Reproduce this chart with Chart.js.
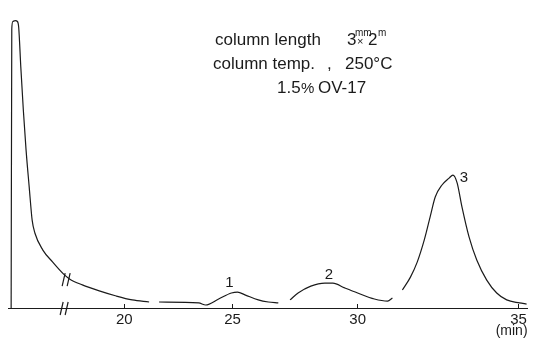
<!DOCTYPE html>
<html>
<head>
<meta charset="utf-8">
<script src="https://cdn.jsdelivr.net/npm/chart.js@4.4.0/dist/chart.umd.min.js"></script>
<style>
  html, body { margin: 0; padding: 0; background: #fff; }
</style>
</head>
<body>
<canvas id="gc" width="534" height="340"></canvas>
<script>
// retention time (min) and detector response
// null = pen lifted
const retention = [
  0, 0.03, 0.08, 0.19, 0.30, 0.36, 0.46, 0.58, 0.71, 0.86, 1.0, 1.13, 1.51, 1.98, 2.5,
  17.48, 18.07, 18.85, 19.63, 20.37, 21.15, 21.4, 21.61, 23.44, 23.76, 24.36, 24.95,
  25.2, 25.52, 26.03, 26.43, 26.83, 27.1, 27.30, 27.62, 28.13, 28.69, 29.01, 29.48,
  30.0, 30.52, 30.93, 31.08, 31.2, 31.39, 31.64, 31.85, 32.07, 32.25, 32.41, 32.62,
  32.84, 32.96, 33.09, 33.24, 33.46, 33.70, 34.01, 34.32, 34.63, 35.03, 35.25
];
const signal = [
  0, 93, 95.5, 95.8, 95.5, 93.5, 80.3, 66, 52.7, 40.3, 29.3, 25, 19.3, 15.3, 11.3,
  9.7, 7.7, 5.7, 4.0, 2.7, 2.0, null, 2.0, 1.7, 1.0, 3.0, 5.0,
  5.3, 4.3, 2.7, 2.0, 1.7, null, 2.7, 5.0, 7.3, 8.3, 8.3, 6.7,
  5.0, 3.0, 2.3, 3.3, null, 6.0, 10.3, 15.3, 22.7, 30.3, 37, 41,
  43.3, 44.3, 41.7, 33.7, 23.7, 16, 9.3, 5, 2.7, 1.7, 1.3
];

const tickMinutes = [20, 25, 30, 35];

const peakNames = ['1', '2', '3'];
const peakTimes = [25.2, 28.85, 32.96];
const peakHeights = [5.3, 8.3, 44.3];

// the time axis is broken after the solvent peak
const breakAt = 2.5;

const ink = '#1b1b1b';
const font = '"Liberation Sans", Arial, sans-serif';

// piecewise linear time axis: [minutes, fraction of axis width]
const axisKnots = [
  [-0.15, 0], [2.5, 0.1071], [17.3, 0.1109], [20, 0.2237],
  [25, 0.4321], [30, 0.6730], [35, 0.9828], [35.28, 1]
];

class BrokenTimeScale extends Chart.LinearScale {
  getPixelForValue(value) {
    const k = this.options.knots;
    let i = 1;
    while (i < k.length - 1 && value > k[i][0]) i++;
    const [v0, f0] = k[i - 1];
    const [v1, f1] = k[i];
    const f = f0 + (value - v0) / (v1 - v0) * (f1 - f0);
    return this.getPixelForDecimal(f);
  }
  getValueForPixel(pixel) {
    const k = this.options.knots;
    const f = this.getDecimalForPixel(pixel);
    let i = 1;
    while (i < k.length - 1 && f > k[i][1]) i++;
    const [v0, f0] = k[i - 1];
    const [v1, f1] = k[i];
    return v0 + (f - f0) / (f1 - f0) * (v1 - v0);
  }
}
BrokenTimeScale.id = 'brokenTime';
BrokenTimeScale.defaults = {};
Chart.register(BrokenTimeScale);

const points = retention.map((t, i) => ({ x: t, y: signal[i] }));

const notes = {
  id: 'notes',
  afterDatasetsDraw(chart) {
    const { ctx, scales: { x, y } } = chart;
    ctx.save();
    ctx.fillStyle = ink;
    ctx.strokeStyle = ink;
    ctx.textBaseline = 'alphabetic';

    // column conditions
    ctx.font = '17px ' + font;
    ctx.fillText('column length', 215, 45);
    ctx.fillText('3', 347, 45);
    ctx.fillText('2', 368, 45);
    ctx.fillText('column temp.', 213, 69);
    ctx.fillText(',', 327, 69);
    ctx.fillText('250\u00b0C', 345, 69);
    ctx.fillText('1.5', 277, 93);
    ctx.fillText('OV-17', 318, 93);
    ctx.font = '15px ' + font;
    ctx.fillText('%', 301, 93);
    ctx.font = '10px ' + font;
    ctx.fillText('mm', 355, 36);
    ctx.fillText('m', 378, 36);
    ctx.font = '11px ' + font;
    ctx.fillText('\u00d7', 357, 45);

    // peak numbers
    ctx.font = '15px ' + font;
    ctx.textAlign = 'center';
    ctx.textBaseline = 'middle';
    const offs = [[-8, -9], [0, -8], [11, 3]];
    peakNames.forEach((name, i) => {
      const px = x.getPixelForValue(peakTimes[i]);
      const py = y.getPixelForValue(peakHeights[i]);
      ctx.fillText(name, px + offs[i][0], py + offs[i][1]);
    });

    // break marks on the trace and on the base line
    ctx.lineWidth = 1.2;
    const bx = x.getPixelForValue(breakAt);
    const by = y.getPixelForValue(signal[retention.indexOf(breakAt)]);
    [[bx + 3, by + 5], [bx + 1, y.bottom]].forEach(([cx, cy]) => {
      [-3, 2].forEach(dx => {
        ctx.beginPath();
        ctx.moveTo(cx + dx - 1.5, cy + 7);
        ctx.lineTo(cx + dx + 1.5, cy - 6);
        ctx.stroke();
      });
    });
    ctx.restore();
  }
};

new Chart(document.getElementById('gc'), {
  type: 'line',
  data: {
    datasets: [{
      data: points,
      borderColor: ink,
      borderWidth: 1.2,
      pointRadius: 0,
      fill: false,
      spanGaps: false,
      cubicInterpolationMode: 'monotone'
    }]
  },
  options: {
    responsive: false,
    animation: false,
    layout: { padding: { left: 8, right: 3, top: 8, bottom: 0 } },
    plugins: { legend: { display: false }, tooltip: { enabled: false } },
    scales: {
      x: {
        type: 'brokenTime',
        knots: axisKnots,
        min: -0.15,
        max: 35.28,
        afterBuildTicks: axis => { axis.ticks = tickMinutes.map(v => ({ value: v })); },
        afterFit: axis => { axis.height = 32; },
        grid: {
          display: true,
          drawOnChartArea: false,
          drawTicks: true,
          tickLength: -4,
          tickColor: ink,
          tickWidth: 1
        },
        border: { display: true, color: ink, width: 1, dash: [14, 4, 2, 4] },
        ticks: {
          color: ink,
          font: { family: font, size: 15 },
          padding: 7,
          maxRotation: 0,
          autoSkip: false,
          callback: v => String(v)
        },
        title: {
          display: true,
          text: '(min)',
          align: 'end',
          color: ink,
          font: { family: font, size: 14 },
          padding: 0
        }
      },
      y: {
        display: false,
        min: 0,
        max: 100
      }
    }
  },
  plugins: [notes]
});
</script>
</body>
</html>
